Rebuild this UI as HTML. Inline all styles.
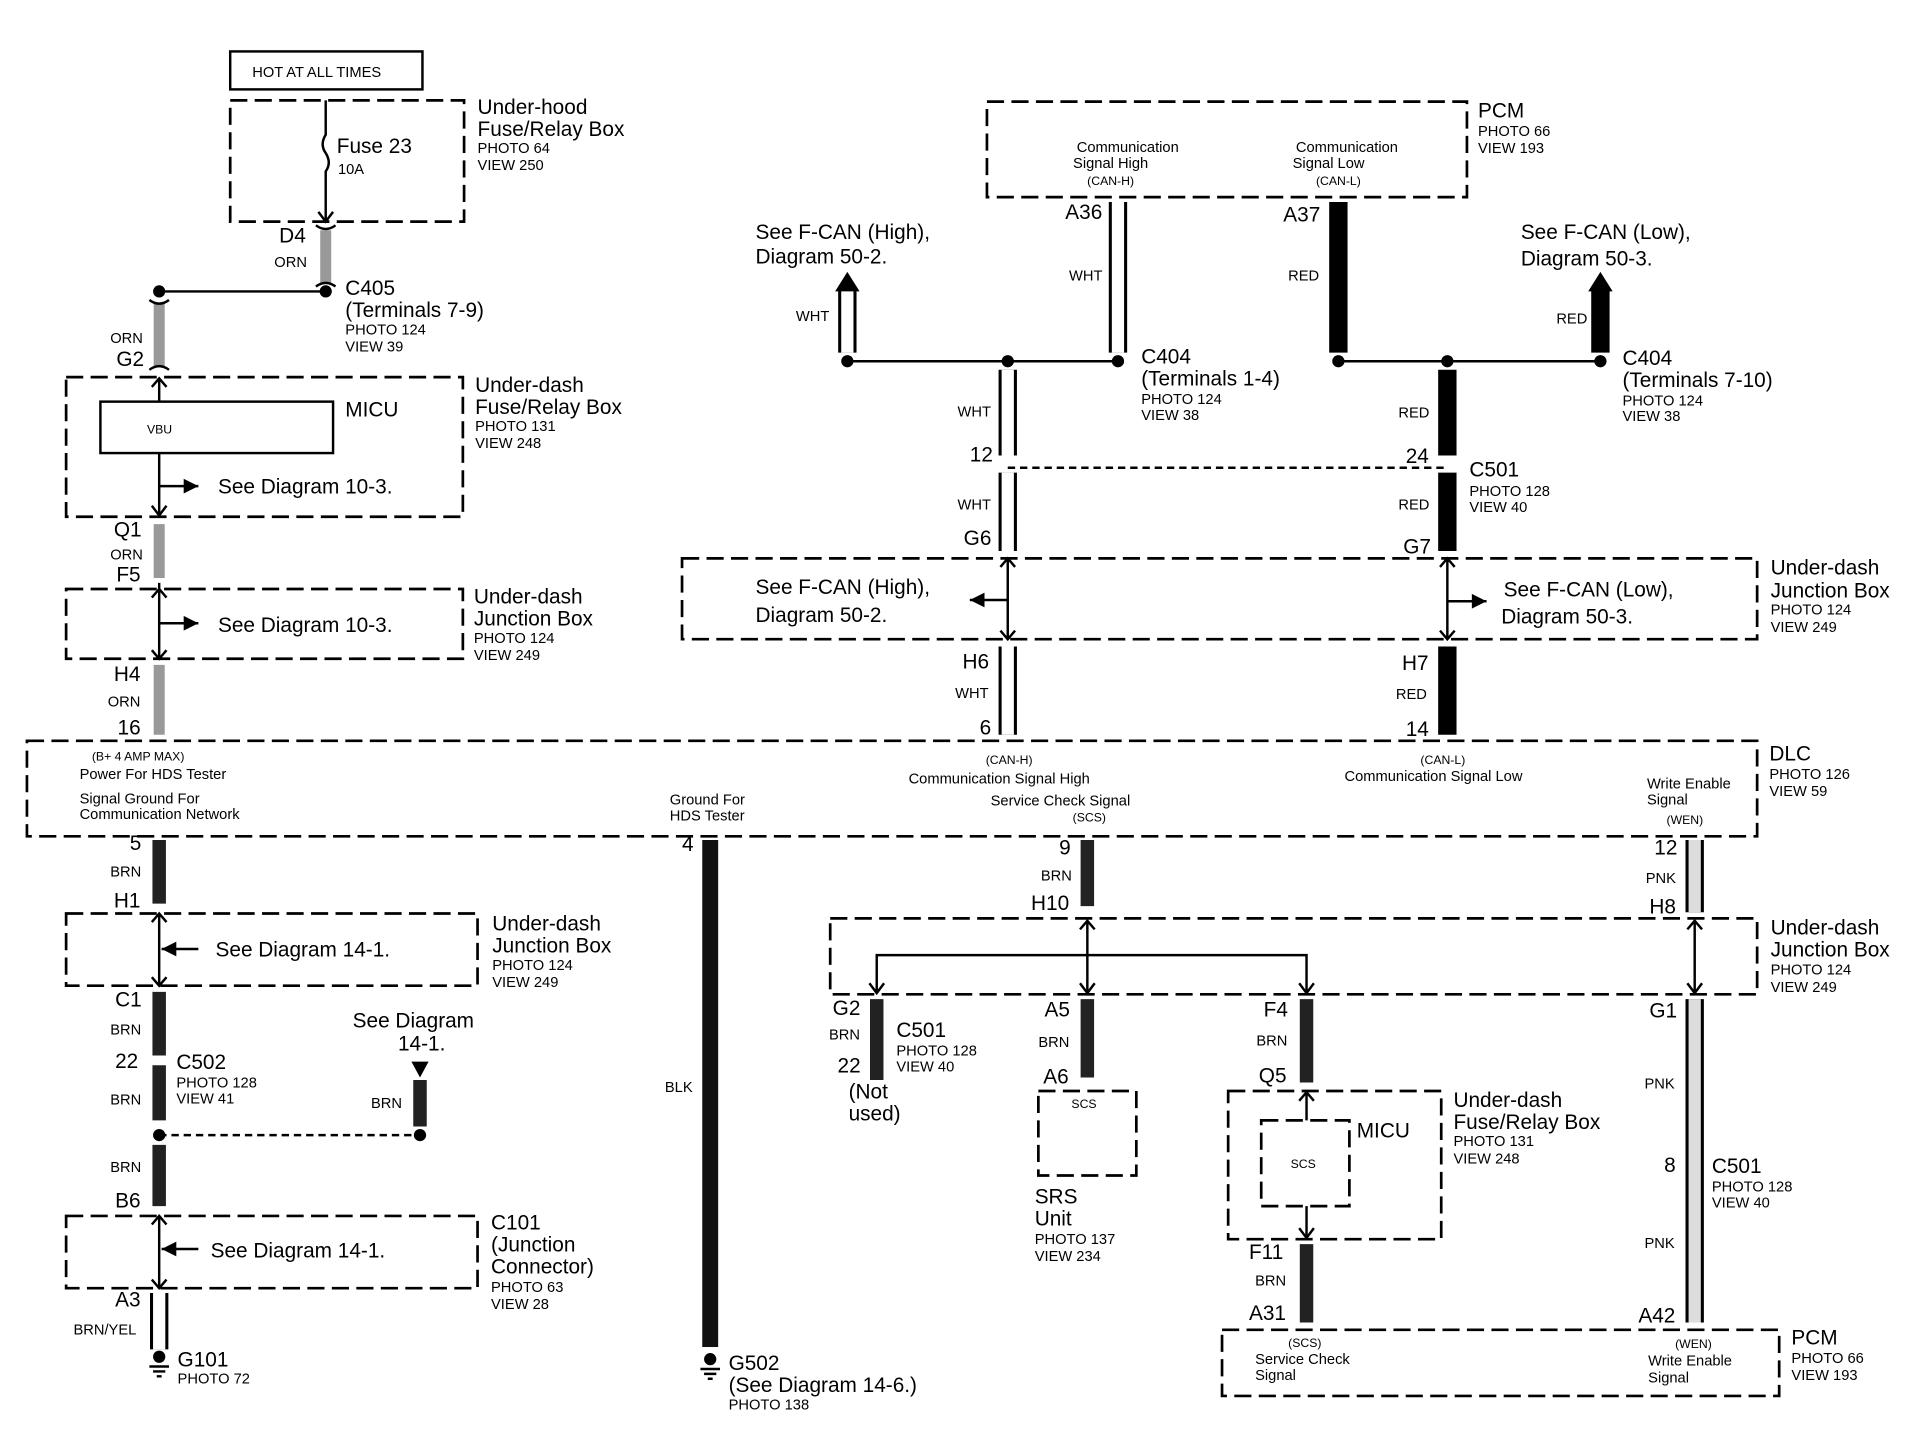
<!DOCTYPE html>
<html><head><meta charset="utf-8"><style>
html,body{margin:0;padding:0;background:#fff;}
svg{display:block;}
text{font-family:"Liberation Sans",sans-serif;fill:#000;}
.l{font-size:17px;}
.s{font-size:12px;}
.t{font-size:10px;}
.d{fill:none;stroke:#000;stroke-width:2.2;stroke-dasharray:14,6;}
.ln{stroke:#000;stroke-width:2;fill:none;}
.orn{stroke:#999;stroke-width:9;}
.blk{stroke:#111;stroke-width:13;}
.brn{stroke:#222;stroke-width:11;}
.wo{stroke:#000;stroke-width:15;}
.wi{stroke:#fff;stroke-width:10;}
.pi{stroke:#ddd;stroke-width:10;}
</style></head><body>
<svg width="1920" height="1440" viewBox="0 0 1568 1176" preserveAspectRatio="none" xmlns="http://www.w3.org/2000/svg">
<defs>
<marker id="ah" markerWidth="8" markerHeight="8" refX="7" refY="4" orient="auto"><path d="M7,4 L1,1 L1,7 Z" fill="#000"/></marker>
</defs>
<rect width="1568" height="1176" fill="#fff"/>

<!-- LEFT TOP -->
<rect x="188" y="42" width="157" height="31" fill="none" stroke="#000" stroke-width="2"/>
<text x="206" y="63" class="s" font-size="13">HOT AT ALL TIMES</text>
<rect x="188" y="82" width="191" height="99" fill="#f0f0f0" class="d"/>
<path d="M266,82 V110 q-5,8 0,15 q5,8 0,15 V181" class="ln"/>
<path d="M260,173 L266,181 L272,173" class="ln"/>
<text x="275" y="125" class="l">Fuse 23</text>
<text x="276" y="142" class="s">10A</text>
<text x="390" y="93" class="l">Under-hood</text>
<text x="390" y="111" class="l">Fuse/Relay Box</text>
<text x="390" y="125" class="s">PHOTO 64</text>
<text x="390" y="139" class="s">VIEW 250</text>
<line x1="266" y1="188" x2="266" y2="232" class="orn"/>
<path d="M258,184 q8,6 16,0 M258,234 q8,-6 16,0" class="ln"/>
<text x="228" y="198" class="l">D4</text>
<text x="224" y="218" class="s">ORN</text>
<line x1="130" y1="238" x2="266" y2="238" class="ln"/>
<circle cx="266" cy="238" r="5"/><circle cx="130" cy="238" r="5"/>
<text x="282" y="241" class="l">C405</text>
<text x="282" y="259" class="l">(Terminals 7-9)</text>
<text x="282" y="273" class="s">PHOTO 124</text>
<text x="282" y="287" class="s">VIEW 39</text>
<line x1="130" y1="248" x2="130" y2="300" class="orn"/>
<path d="M122,245 q8,6 16,0 M122,302 q8,-6 16,0" class="ln"/>
<text x="90" y="280" class="s">ORN</text>
<text x="95" y="299" class="l">G2</text>

<rect x="54" y="308" width="324" height="114" class="d"/>
<rect x="82" y="328" width="190" height="42" fill="none" stroke="#000" stroke-width="2"/>
<text x="120" y="354" class="t">VBU</text>
<text x="282" y="340" class="l">MICU</text>
<line x1="130" y1="310" x2="130" y2="328" class="ln"/>
<path d="M124,316 L130,309 L136,316" class="ln"/>
<line x1="130" y1="370" x2="130" y2="420" class="ln"/>
<path d="M124,413 L130,421 L136,413" class="ln"/>
<line x1="130" y1="397" x2="162" y2="397" class="ln" marker-end="url(#ah)"/>
<text x="178" y="403" class="l">See Diagram 10-3.</text>
<text x="388" y="320" class="l">Under-dash</text>
<text x="388" y="338" class="l">Fuse/Relay Box</text>
<text x="388" y="352" class="s">PHOTO 131</text>
<text x="388" y="366" class="s">VIEW 248</text>
<line x1="130" y1="428" x2="130" y2="472" class="orn"/>
<text x="93" y="438" class="l">Q1</text>
<text x="90" y="457" class="s">ORN</text>
<text x="95" y="475" class="l">F5</text>
<rect x="54" y="481" width="324" height="57" class="d"/>
<line x1="130" y1="476" x2="130" y2="538" class="ln"/>
<path d="M124,488 L130,481 L136,488 M124,531 L130,538 L136,531" class="ln"/>
<line x1="130" y1="509" x2="162" y2="509" class="ln" marker-end="url(#ah)"/>
<text x="178" y="516" class="l">See Diagram 10-3.</text>
<text x="387" y="493" class="l">Under-dash</text>
<text x="387" y="511" class="l">Junction Box</text>
<text x="387" y="525" class="s">PHOTO 124</text>
<text x="387" y="539" class="s">VIEW 249</text>
<line x1="130" y1="543" x2="130" y2="600" class="orn"/>
<text x="93" y="556" class="l">H4</text>
<text x="88" y="577" class="s">ORN</text>
<text x="96" y="600" class="l">16</text>

<!-- DLC -->
<rect x="22" y="605" width="1413" height="78" class="d"/>
<text x="75" y="621" class="t">(B+ 4 AMP MAX)</text>
<text x="65" y="636" class="s">Power For HDS Tester</text>
<text x="65" y="656" class="s">Signal Ground For</text>
<text x="65" y="669" class="s">Communication Network</text>
<text x="547" y="657" class="s">Ground For</text>
<text x="547" y="670" class="s">HDS Tester</text>
<text x="805" y="624" class="t">(CAN-H)</text>
<text x="742" y="640" class="s">Communication Signal High</text>
<text x="809" y="658" class="s">Service Check Signal</text>
<text x="876" y="671" class="t">(SCS)</text>
<text x="1160" y="624" class="t">(CAN-L)</text>
<text x="1098" y="638" class="s">Communication Signal Low</text>
<text x="1345" y="644" class="s">Write Enable</text>
<text x="1345" y="657" class="s">Signal</text>
<text x="1361" y="673" class="t">(WEN)</text>
<text x="1445" y="621" class="l">DLC</text>
<text x="1445" y="636" class="s">PHOTO 126</text>
<text x="1445" y="650" class="s">VIEW 59</text>

<!-- LEFT BOTTOM -->
<line x1="130" y1="686" x2="130" y2="738" class="brn"/>
<text x="106" y="694" class="l">5</text>
<text x="90" y="716" class="s">BRN</text>
<text x="93" y="741" class="l">H1</text>
<rect x="54" y="746" width="336" height="59" class="d"/>
<line x1="130" y1="746" x2="130" y2="805" class="ln"/>
<path d="M124,753 L130,746 L136,753 M124,798 L130,805 L136,798" class="ln"/>
<line x1="162" y1="775" x2="132" y2="775" class="ln" marker-end="url(#ah)"/>
<text x="176" y="781" class="l">See Diagram 14-1.</text>
<text x="402" y="760" class="l">Under-dash</text>
<text x="402" y="778" class="l">Junction Box</text>
<text x="402" y="792" class="s">PHOTO 124</text>
<text x="402" y="806" class="s">VIEW 249</text>
<line x1="130" y1="810" x2="130" y2="862" class="brn"/>
<text x="94" y="822" class="l">C1</text>
<text x="90" y="845" class="s">BRN</text>
<text x="94" y="872" class="l">22</text>
<text x="144" y="873" class="l">C502</text>
<text x="144" y="888" class="s">PHOTO 128</text>
<text x="144" y="901" class="s">VIEW 41</text>
<line x1="130" y1="870" x2="130" y2="915" class="brn"/>
<text x="90" y="902" class="s">BRN</text>
<circle cx="130" cy="927" r="5"/><circle cx="343" cy="927" r="5"/>
<line x1="130" y1="927" x2="343" y2="927" class="ln" stroke-dasharray="6,4"/>
<text x="288" y="839" class="l">See Diagram</text>
<text x="325" y="858" class="l">14-1.</text>
<path d="M336,867 L350,867 L343,880 Z"/>
<line x1="343" y1="882" x2="343" y2="920" class="brn"/>
<text x="303" y="905" class="s">BRN</text>
<line x1="130" y1="935" x2="130" y2="985" class="brn"/>
<text x="90" y="957" class="s">BRN</text>
<text x="94" y="986" class="l">B6</text>
<rect x="54" y="993" width="336" height="59" class="d"/>
<line x1="130" y1="993" x2="130" y2="1052" class="ln"/>
<path d="M124,1000 L130,993 L136,1000 M124,1045 L130,1052 L136,1045" class="ln"/>
<line x1="162" y1="1020" x2="132" y2="1020" class="ln" marker-end="url(#ah)"/>
<text x="172" y="1027" class="l">See Diagram 14-1.</text>
<text x="401" y="1004" class="l">C101</text>
<text x="401" y="1022" class="l">(Junction</text>
<text x="401" y="1040" class="l">Connector)</text>
<text x="401" y="1055" class="s">PHOTO 63</text>
<text x="401" y="1069" class="s">VIEW 28</text>
<line x1="130" y1="1056" x2="130" y2="1102" class="wo"/>
<line x1="130" y1="1056" x2="130" y2="1102" class="wi"/>
<text x="94" y="1067" class="l">A3</text>
<text x="60" y="1090" class="s">BRN/YEL</text>
<circle cx="130" cy="1108" r="5"/>
<path d="M122,1116 h16 M125,1120 h10 M128,1124 h4" class="ln" stroke-width="1.5"/>
<text x="145" y="1116" class="l">G101</text>
<text x="145" y="1130" class="s">PHOTO 72</text>

<line x1="580" y1="686" x2="580" y2="1100" class="blk"/>
<text x="557" y="695" class="l">4</text>
<text x="543" y="892" class="s">BLK</text>
<circle cx="580" cy="1110" r="5"/>
<path d="M572,1118 h16 M575,1122 h10 M578,1126 h4" class="ln" stroke-width="1.5"/>
<text x="595" y="1119" class="l">G502</text>
<text x="595" y="1137" class="l">(See Diagram 14-6.)</text>
<text x="595" y="1151" class="s">PHOTO 138</text>

<!-- RIGHT TOP -->
<rect x="806" y="83" width="392" height="78" fill="#f0f0f0" class="d"/>
<text x="921" y="124" class="s" text-anchor="middle">Communication</text>
<text x="907" y="137" class="s" text-anchor="middle">Signal High</text>
<text x="907" y="151" class="t" text-anchor="middle">(CAN-H)</text>
<text x="1100" y="124" class="s" text-anchor="middle">Communication</text>
<text x="1085" y="137" class="s" text-anchor="middle">Signal Low</text>
<text x="1093" y="151" class="t" text-anchor="middle">(CAN-L)</text>
<text x="1207" y="96" class="l">PCM</text>
<text x="1207" y="111" class="s">PHOTO 66</text>
<text x="1207" y="125" class="s">VIEW 193</text>
<line x1="913" y1="165" x2="913" y2="288" class="wo"/><line x1="913" y1="165" x2="913" y2="288" class="wi"/>
<text x="870" y="179" class="l">A36</text>
<text x="873" y="229" class="s">WHT</text>
<line x1="1093" y1="165" x2="1093" y2="288" class="wo"/>
<text x="1048" y="181" class="l">A37</text>
<text x="1052" y="229" class="s">RED</text>
<line x1="692" y1="295" x2="913" y2="295" class="ln"/>
<circle cx="692" cy="295" r="5"/><circle cx="823" cy="295" r="5"/><circle cx="913" cy="295" r="5"/>
<line x1="692" y1="288" x2="692" y2="236" class="wo"/><line x1="692" y1="288" x2="692" y2="236" class="wi"/>
<path d="M682,238 L692,222 L702,238 Z"/>
<text x="650" y="262" class="s">WHT</text>
<text x="617" y="195" class="l">See F-CAN (High),</text>
<text x="617" y="215" class="l">Diagram 50-2.</text>
<line x1="1093" y1="295" x2="1307" y2="295" class="ln"/>
<circle cx="1093" cy="295" r="5"/><circle cx="1182" cy="295" r="5"/><circle cx="1307" cy="295" r="5"/>
<line x1="1307" y1="288" x2="1307" y2="236" class="wo" stroke-width="12"/>
<path d="M1297,238 L1307,222 L1317,238 Z"/>
<text x="1271" y="264" class="s">RED</text>
<text x="1242" y="195" class="l">See F-CAN (Low),</text>
<text x="1242" y="217" class="l">Diagram 50-3.</text>
<text x="932" y="297" class="l">C404</text>
<text x="932" y="315" class="l">(Terminals 1-4)</text>
<text x="932" y="330" class="s">PHOTO 124</text>
<text x="932" y="343" class="s">VIEW 38</text>
<text x="1325" y="298" class="l">C404</text>
<text x="1325" y="316" class="l">(Terminals 7-10)</text>
<text x="1325" y="331" class="s">PHOTO 124</text>
<text x="1325" y="344" class="s">VIEW 38</text>
<line x1="823" y1="302" x2="823" y2="372" class="wo"/><line x1="823" y1="302" x2="823" y2="372" class="wi"/>
<text x="782" y="340" class="s">WHT</text>
<text x="792" y="377" class="l">12</text>
<line x1="1182" y1="302" x2="1182" y2="372" class="wo"/>
<text x="1142" y="341" class="s">RED</text>
<text x="1148" y="378" class="l">24</text>
<line x1="823" y1="382" x2="1182" y2="382" class="ln" stroke-dasharray="6,4" stroke-width="1.2"/>
<text x="1200" y="389" class="l">C501</text>
<text x="1200" y="405" class="s">PHOTO 128</text>
<text x="1200" y="418" class="s">VIEW 40</text>
<line x1="823" y1="386" x2="823" y2="450" class="wo"/><line x1="823" y1="386" x2="823" y2="450" class="wi"/>
<text x="782" y="416" class="s">WHT</text>
<text x="787" y="445" class="l">G6</text>
<line x1="1182" y1="386" x2="1182" y2="450" class="wo"/>
<text x="1142" y="416" class="s">RED</text>
<text x="1146" y="452" class="l">G7</text>
<rect x="557" y="456" width="878" height="66" class="d"/>
<line x1="823" y1="456" x2="823" y2="522" class="ln"/>
<path d="M817,463 L823,456 L829,463 M817,515 L823,522 L829,515" class="ln"/>
<line x1="823" y1="490" x2="792" y2="490" class="ln" marker-end="url(#ah)"/>
<text x="617" y="485" class="l">See F-CAN (High),</text>
<text x="617" y="508" class="l">Diagram 50-2.</text>
<line x1="1182" y1="456" x2="1182" y2="522" class="ln"/>
<path d="M1176,463 L1182,456 L1188,463 M1176,515 L1182,522 L1188,515" class="ln"/>
<line x1="1182" y1="491" x2="1214" y2="491" class="ln" marker-end="url(#ah)"/>
<text x="1228" y="487" class="l">See F-CAN (Low),</text>
<text x="1226" y="509" class="l">Diagram 50-3.</text>
<text x="1446" y="469" class="l">Under-dash</text>
<text x="1446" y="488" class="l">Junction Box</text>
<text x="1446" y="502" class="s">PHOTO 124</text>
<text x="1446" y="516" class="s">VIEW 249</text>
<line x1="823" y1="528" x2="823" y2="600" class="wo"/><line x1="823" y1="528" x2="823" y2="600" class="wi"/>
<text x="786" y="546" class="l">H6</text>
<text x="780" y="570" class="s">WHT</text>
<text x="800" y="600" class="l">6</text>
<line x1="1182" y1="528" x2="1182" y2="600" class="wo"/>
<text x="1145" y="547" class="l">H7</text>
<text x="1140" y="571" class="s">RED</text>
<text x="1148" y="601" class="l">14</text>

<!-- RIGHT BOTTOM -->
<line x1="888" y1="686" x2="888" y2="740" class="brn"/>
<text x="865" y="698" class="l">9</text>
<text x="850" y="719" class="s">BRN</text>
<text x="842" y="743" class="l">H10</text>
<line x1="1384" y1="686" x2="1384" y2="745" class="wo" stroke-width="13"/><line x1="1384" y1="686" x2="1384" y2="745" class="pi"/>
<text x="1351" y="698" class="l">12</text>
<text x="1344" y="721" class="s">PNK</text>
<text x="1347" y="746" class="l">H8</text>
<rect x="678" y="750" width="757" height="62" class="d"/>
<line x1="888" y1="752" x2="888" y2="810" class="ln"/>
<path d="M882,759 L888,752 L894,759 M882,803 L888,811 L894,803" class="ln"/>
<path d="M716,810 V780 H1067 V810" class="ln"/>
<path d="M710,803 L716,811 L722,803 M1061,803 L1067,811 L1073,803" class="ln"/>
<line x1="1384" y1="752" x2="1384" y2="810" class="ln"/>
<path d="M1378,759 L1384,752 L1390,759 M1378,803 L1384,811 L1390,803" class="ln"/>
<text x="1446" y="763" class="l">Under-dash</text>
<text x="1446" y="781" class="l">Junction Box</text>
<text x="1446" y="796" class="s">PHOTO 124</text>
<text x="1446" y="810" class="s">VIEW 249</text>
<line x1="716" y1="816" x2="716" y2="882" class="brn"/>
<text x="680" y="829" class="l">G2</text>
<text x="677" y="849" class="s">BRN</text>
<text x="684" y="876" class="l">22</text>
<text x="693" y="897" class="l">(Not</text>
<text x="693" y="915" class="l">used)</text>
<text x="732" y="847" class="l">C501</text>
<text x="732" y="862" class="s">PHOTO 128</text>
<text x="732" y="875" class="s">VIEW 40</text>
<line x1="888" y1="816" x2="888" y2="880" class="brn"/>
<text x="853" y="830" class="l">A5</text>
<text x="848" y="855" class="s">BRN</text>
<text x="852" y="885" class="l">A6</text>
<rect x="848" y="891" width="80" height="69" class="d" stroke-dasharray="10,5"/>
<text x="875" y="905" class="t">SCS</text>
<text x="845" y="983" class="l">SRS</text>
<text x="845" y="1001" class="l">Unit</text>
<text x="845" y="1016" class="s">PHOTO 137</text>
<text x="845" y="1030" class="s">VIEW 234</text>
<line x1="1067" y1="816" x2="1067" y2="884" class="brn"/>
<text x="1032" y="830" class="l">F4</text>
<text x="1026" y="854" class="s">BRN</text>
<text x="1028" y="884" class="l">Q5</text>
<rect x="1003" y="891" width="174" height="121" class="d"/>
<rect x="1030" y="915" width="72" height="70" class="d" stroke-dasharray="8,4"/>
<text x="1054" y="954" class="t">SCS</text>
<text x="1108" y="929" class="l">MICU</text>
<line x1="1067" y1="893" x2="1067" y2="915" class="ln"/><path d="M1061,899 L1067,892 L1073,899" class="ln"/>
<line x1="1067" y1="985" x2="1067" y2="1010" class="ln"/>
<path d="M1061,1003 L1067,1011 L1073,1003" class="ln"/>
<text x="1187" y="904" class="l">Under-dash</text>
<text x="1187" y="922" class="l">Fuse/Relay Box</text>
<text x="1187" y="936" class="s">PHOTO 131</text>
<text x="1187" y="950" class="s">VIEW 248</text>
<line x1="1067" y1="1016" x2="1067" y2="1080" class="brn"/>
<text x="1020" y="1028" class="l">F11</text>
<text x="1025" y="1050" class="s">BRN</text>
<text x="1020" y="1078" class="l">A31</text>
<line x1="1384" y1="816" x2="1384" y2="1080" class="wo" stroke-width="13"/><line x1="1384" y1="816" x2="1384" y2="1080" class="pi"/>
<text x="1347" y="831" class="l">G1</text>
<text x="1343" y="889" class="s">PNK</text>
<text x="1359" y="957" class="l">8</text>
<text x="1398" y="958" class="l">C501</text>
<text x="1398" y="973" class="s">PHOTO 128</text>
<text x="1398" y="986" class="s">VIEW 40</text>
<text x="1343" y="1019" class="s">PNK</text>
<text x="1338" y="1080" class="l">A42</text>
<rect x="998" y="1086" width="455" height="54" class="d"/>
<text x="1052" y="1100" class="t">(SCS)</text>
<text x="1025" y="1114" class="s">Service Check</text>
<text x="1025" y="1127" class="s">Signal</text>
<text x="1368" y="1101" class="t">(WEN)</text>
<text x="1346" y="1115" class="s">Write Enable</text>
<text x="1346" y="1129" class="s">Signal</text>
<text x="1463" y="1098" class="l">PCM</text>
<text x="1463" y="1113" class="s">PHOTO 66</text>
<text x="1463" y="1127" class="s">VIEW 193</text>
</svg>
</body></html>
